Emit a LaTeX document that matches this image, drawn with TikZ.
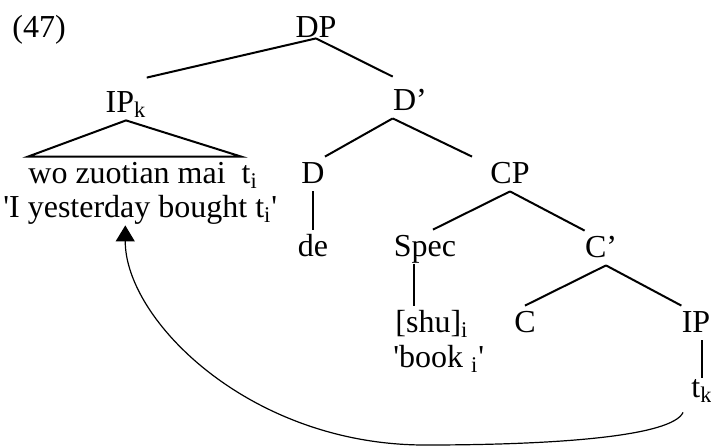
\documentclass[tikz,border=0pt]{standalone}
\usepackage{fontspec}
\usetikzlibrary{arrows.meta}
\newfontfamily\treefont{Liberation Serif}
\tikzset{
  lab/.style={font=\treefont\fontsize{16}{19}\selectfont,inner sep=0pt,
    text height=13pt,text depth=4pt,anchor=base},
  branch/.style={line width=1pt},
}
\begin{document}
\begin{tikzpicture}[x=0.5pt,y=0.5pt,>={Triangle[length=8pt,width=9.5pt]}]
  \useasboundingbox (0,0) rectangle (711,446);
  \node[lab,anchor=base west] (num) at (12,409) {(47)};
  % upper part
  \node[lab] (DP) at (316,409) {DP};
  \node[lab] (IPk) at (126,334) {IP\textsubscript{k}};
  \node[lab] (Dbar) at (410,336) {D’};
  \node[lab,anchor=base west] (wo) at (28,263) {wo zuotian mai\hspace{0.5em}t\textsubscript{i}};
  \node[lab,anchor=base west] (gloss) at (3,229) {'I yesterday bought t\textsubscript{i}'};
  \node[lab] (D) at (313,263) {D};
  \node[lab] (CP) at (510,263) {CP};
  \node[lab] (de) at (313,190) {de};
  % relative clause
  \node[lab] (Spec) at (425,190) {Spec};
  \node[lab] (Cbar) at (601,189) {C’};
  \node[lab,anchor=base west] (shu) at (395,114) {[shu]\textsubscript{i}};
  \node[lab,anchor=base west] (book) at (393,79) {'book \textsubscript{i}'};
  \node[lab] (C) at (525,114) {C};
  \node[lab] (IP) at (696,114) {IP};
  \node[lab] (tk) at (702,49) {t\textsubscript{k}};

  \draw[branch] ([yshift=3.5pt]DP.south) -- ([yshift=4pt]IPk.north east);
  \draw[branch] ([yshift=3.5pt]DP.south) -- ([yshift=3.5pt]Dbar.north west);
  \draw[branch] (IPk.south) -- (wo.north west) -- ([xshift=-8.5pt]wo.north east) -- cycle;
  \draw[branch] (Dbar.south west) -- (D.north east);
  \draw[branch] (Dbar.south west) -- ([xshift=-9pt]CP.north west);
  \draw[branch] (D) -- (de);
  \draw[branch] (CP.south) -- ([xshift=4pt]Spec.north);
  \draw[branch] (CP.south) -- (Cbar.north west);
  \draw[branch] ([xshift=-5.5pt]Spec.south) -- ([xshift=-5.5pt]Spec.south |- shu.north);
  \draw[branch] ([xshift=2.5pt]Cbar.south) -- (C.north);
  \draw[branch] ([xshift=2.5pt]Cbar.south) -- (IP.north west);
  \draw[branch] (IP.south -| tk.north) -- ([yshift=-3.5pt]tk.north);

  % movement of IP_k
  \coordinate (low) at (425,1);
  \draw[line width=0.6pt,->] ([xshift=-4pt,yshift=-3.5pt]tk.south west)
    .. controls (672,10) and (560,1) .. (low)
    .. controls (250,1) and (125,126) .. ([xshift=-7.5pt]gloss.south);
\end{tikzpicture}
\end{document}
